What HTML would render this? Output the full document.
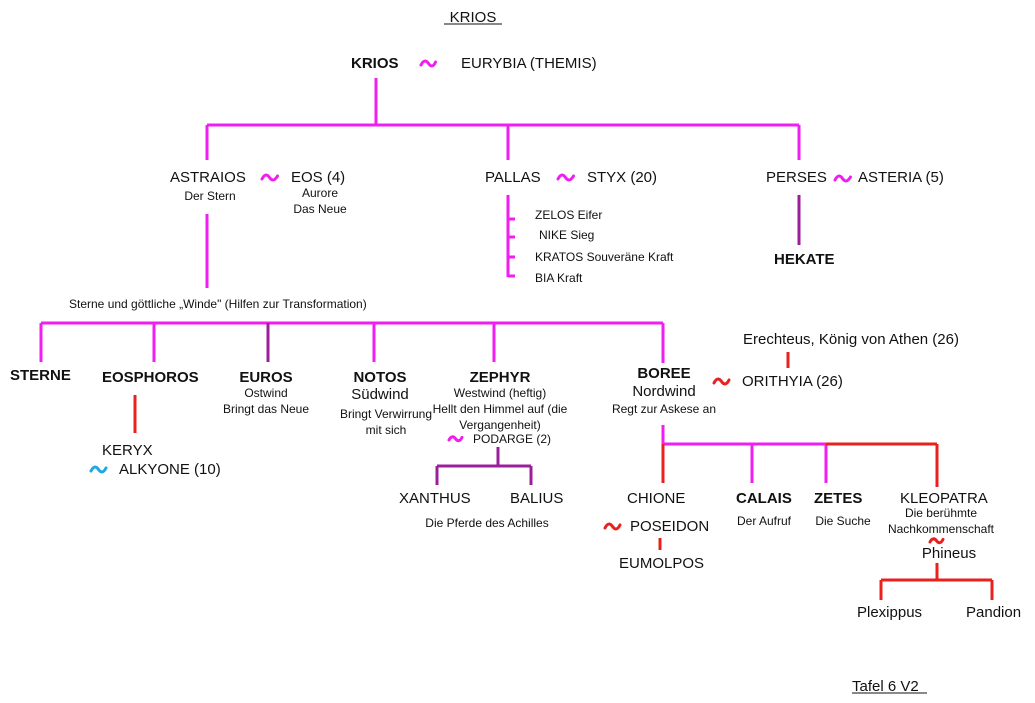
<!DOCTYPE html>
<html><head><meta charset="utf-8"><style>
html,body{margin:0;padding:0;background:#fff;}
svg{display:block;font-family:"Liberation Sans",Arial,sans-serif;}
text{fill:#111;}
.m{stroke:#f01ef0;stroke-width:3;fill:none;}
.p{stroke:#9b1f9b;stroke-width:3;fill:none;}
.r{stroke:#e8201e;stroke-width:3;fill:none;}
.L{font-size:15px;}
.S{font-size:12px;}
.B{font-size:15px;font-weight:bold;}
.tm{stroke:#f01ef0;stroke-width:3;fill:none;stroke-linecap:round;}
.tr{stroke:#e8201e;stroke-width:3;fill:none;stroke-linecap:round;}
.tc{stroke:#20a8e0;stroke-width:3;fill:none;stroke-linecap:round;}
</style></head><body>
<svg width="1035" height="703" viewBox="0 0 1035 703">
<!-- lines -->
<path class="m" d="M376 78V125M207 125H799M207 125V160M508 125V160M799 125V160"/>
<path class="m" d="M207 214V288"/>
<path class="m" d="M508 195V277M508 219H515M508 237H515M508 257H515M508 276H515"/>
<path class="p" d="M799 195V245"/>
<path class="m" d="M41 323H663M41 323V362M154 323V362M374 323V362M494 323V362M663 323V363"/>
<path class="p" d="M268 323V362"/>
<path class="r" d="M135 395V433"/>
<path class="p" d="M498 447V466M437 466H531M437 466V485M531 466V485"/>
<path class="m" d="M663 425V444M663 444H826M752 444V483M826 444V483"/>
<path class="r" d="M826 444H937M937 444V487M663 444V483"/>
<path class="r" d="M660 538V550M788 352V368"/>
<path class="r" d="M937 563V580M881 580H992M881 580V600M992 580V600"/>
<!-- tildes -->
<path class="tm" d="M421 65c2.5-5 5-5 7.5-1.5s5 3.5 7 -1.5"/>
<path class="tm" d="M262 179c2.5-5 5-5 7.5-1.5s5 3.5 8 -1.5"/>
<path class="tm" d="M558 179c2.5-5 5-5 7.5-1.5s5 3.5 8 -1.5"/>
<path class="tm" d="M835 180c2.5-5 5-5 7.5-1.5s5 3.5 8 -1.5"/>
<path class="tm" d="M449 440c2-4 4.5-4 6.5-1.3s4.5 3 6.5 -1.3"/>
<path class="tc" d="M91 471c2.5-5 5-5 7.5-1.5s5 3.5 7.5 -1.5"/>
<path class="tr" d="M714 383c2.5-5 5-5 7.5-1.5s5 3.5 7.5 -1.5"/>
<path class="tr" d="M605 528c2.5-5 5-5 7.5-1.5s5 3.5 7.5 -1.5"/>
<path class="tr" d="M930 542c2-4 4.5-4 6.5-1.3s4.5 3 6.5 -1.3"/>
<!-- text -->
<text x="473" y="22" class="L" text-anchor="middle">KRIOS</text>
<line x1="444" y1="24" x2="502" y2="24" stroke="#111" stroke-width="1"/>
<text x="351" y="68" class="B">KRIOS</text>
<text x="461" y="68" class="L">EURYBIA (THEMIS)</text>

<text x="170" y="182" class="L">ASTRAIOS</text>
<text x="291" y="182" class="L">EOS (4)</text>
<text x="210" y="200" class="S" text-anchor="middle">Der Stern</text>
<text x="320" y="197" class="S" text-anchor="middle">Aurore</text>
<text x="320" y="213" class="S" text-anchor="middle">Das Neue</text>

<text x="485" y="182" class="L">PALLAS</text>
<text x="587" y="182" class="L">STYX (20)</text>
<text x="535" y="219" class="S">ZELOS Eifer</text>
<text x="539" y="239" class="S">NIKE Sieg</text>
<text x="535" y="261" class="S">KRATOS Souveräne Kraft</text>
<text x="535" y="282" class="S">BIA Kraft</text>

<text x="766" y="182" class="L">PERSES</text>
<text x="858" y="182" class="L">ASTERIA (5)</text>
<text x="774" y="264" class="B">HEKATE</text>

<text x="69" y="308" class="S">Sterne und göttliche „Winde" (Hilfen zur Transformation)</text>

<text x="10" y="380" class="B">STERNE</text>
<text x="102" y="382" class="B">EOSPHOROS</text>
<text x="266" y="382" class="B" text-anchor="middle">EUROS</text>
<text x="266" y="397" class="S" text-anchor="middle">Ostwind</text>
<text x="266" y="413" class="S" text-anchor="middle">Bringt das Neue</text>
<text x="380" y="382" class="B" text-anchor="middle">NOTOS</text>
<text x="380" y="399" class="L" text-anchor="middle">Südwind</text>
<text x="386" y="418" class="S" text-anchor="middle">Bringt Verwirrung</text>
<text x="386" y="434" class="S" text-anchor="middle">mit sich</text>
<text x="500" y="382" class="B" text-anchor="middle">ZEPHYR</text>
<text x="500" y="397" class="S" text-anchor="middle">Westwind (heftig)</text>
<text x="500" y="413" class="S" text-anchor="middle">Hellt den Himmel auf (die</text>
<text x="500" y="429" class="S" text-anchor="middle">Vergangenheit)</text>
<text x="473" y="443" class="S">PODARGE (2)</text>

<text x="102" y="455" class="L">KERYX</text>
<text x="119" y="474" class="L">ALKYONE (10)</text>

<text x="399" y="503" class="L">XANTHUS</text>
<text x="510" y="503" class="L">BALIUS</text>
<text x="487" y="527" class="S" text-anchor="middle">Die Pferde des Achilles</text>

<text x="664" y="378" class="B" text-anchor="middle">BOREE</text>
<text x="664" y="396" class="L" text-anchor="middle">Nordwind</text>
<text x="664" y="413" class="S" text-anchor="middle">Regt zur Askese an</text>

<text x="743" y="344" class="L">Erechteus, König von Athen (26)</text>
<text x="742" y="386" class="L">ORITHYIA (26)</text>

<text x="627" y="503" class="L">CHIONE</text>
<text x="630" y="531" class="L">POSEIDON</text>
<text x="619" y="568" class="L">EUMOLPOS</text>
<text x="736" y="503" class="B">CALAIS</text>
<text x="764" y="525" class="S" text-anchor="middle">Der Aufruf</text>
<text x="814" y="503" class="B">ZETES</text>
<text x="843" y="525" class="S" text-anchor="middle">Die Suche</text>
<text x="900" y="503" class="L">KLEOPATRA</text>
<text x="941" y="517" class="S" text-anchor="middle">Die berühmte</text>
<text x="941" y="533" class="S" text-anchor="middle">Nachkommenschaft</text>
<text x="949" y="558" class="L" text-anchor="middle">Phineus</text>
<text x="857" y="617" class="L">Plexippus</text>
<text x="966" y="617" class="L">Pandion</text>

<text x="852" y="691" class="L">Tafel 6 V2</text>
<line x1="852" y1="693" x2="927" y2="693" stroke="#111" stroke-width="1"/>
</svg>
</body></html>
